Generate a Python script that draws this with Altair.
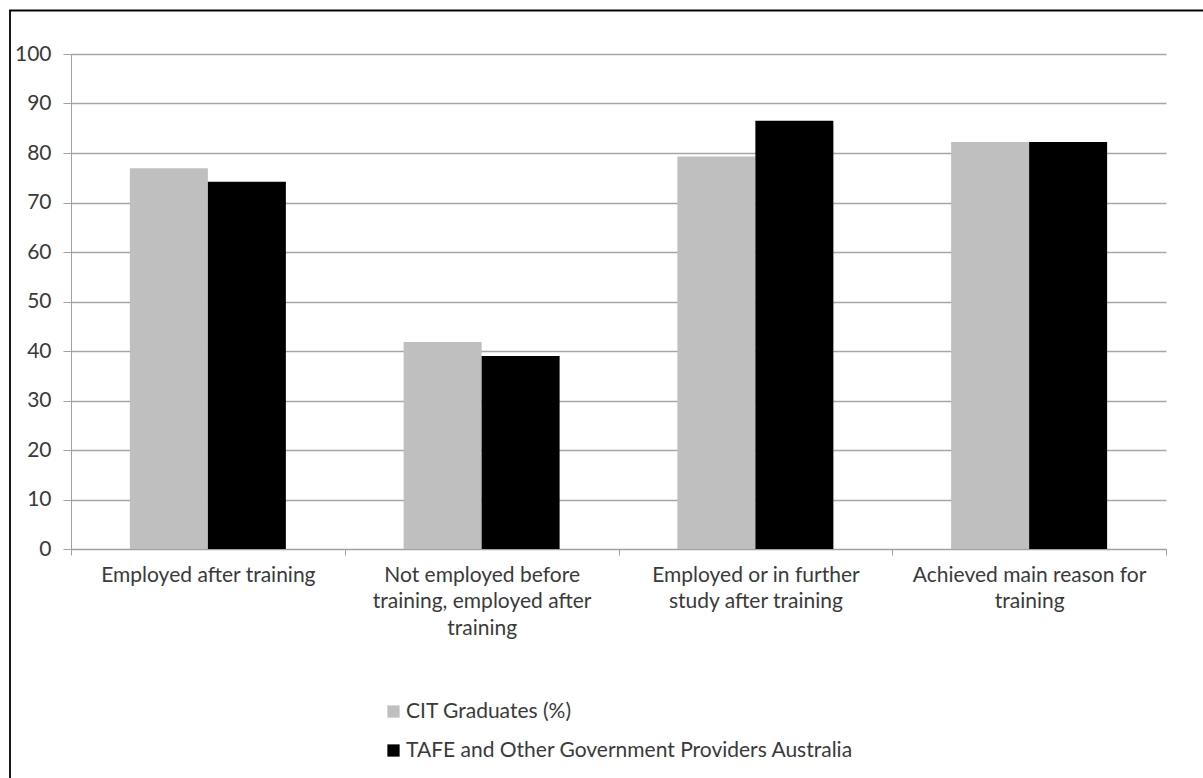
import altair as alt
import pandas as pd

categories = [
    "Employed after training",
    "Not employed before|training, employed after|training",
    "Employed or in further|study after training",
    "Achieved main reason for|training",
]
series = ["CIT Graduates (%)", "TAFE and Other Government Providers Australia"]
cit_values = [76.9, 41.8, 79.3, 82.2]
tafe_values = [74.2, 39.0, 86.5, 82.2]
colors = ["#BFBFBF", "#000000"]
y_ticks = [0, 10, 20, 30, 40, 50, 60, 70, 80, 90, 100]

rows = []
for c, a, b in zip(categories, cit_values, tafe_values):
    rows.append({"category": c, "series": series[0], "value": a})
    rows.append({"category": c, "series": series[1], "value": b})
df = pd.DataFrame(rows)

FONT = "Lato"
FS = 21
TXT = "#3A3A3A"
W, H = 1095, 495
PL, PT = 71, 54

bars = alt.Chart(df).mark_bar().encode(
    x=alt.X(
        "category:N",
        sort=categories,
        scale=alt.Scale(paddingInner=0, paddingOuter=0),
        axis=alt.Axis(
            title=None,
            labelAngle=0,
            labelExpr="split(datum.label, '|')",
            labelFont=FONT,
            labelFontSize=FS,
            labelColor=TXT,
            labelLineHeight=26.5,
            labelPadding=9,
            labelLimit=400,
            tickBand="extent",
            tickSize=6,
            tickColor="#A0A0A0",
            domainColor="#A0A0A0",
            grid=False,
        ),
    ),
    xOffset=alt.XOffset(
        "series:N",
        sort=series,
        scale=alt.Scale(paddingInner=0, paddingOuter=0.755),
    ),
    y=alt.Y(
        "value:Q",
        scale=alt.Scale(domain=[0, 100], nice=False),
        axis=alt.Axis(
            title=None,
            values=y_ticks,
            labelFont=FONT,
            labelFontSize=FS,
            labelColor=TXT,
            labelPadding=12,
            tickSize=8,
            tickColor="#A0A0A0",
            domainColor="#A0A0A0",
            gridColor="#A6A6A6",
            gridWidth=1.3,
        ),
    ),
    color=alt.Color(
        "series:N",
        sort=series,
        scale=alt.Scale(domain=series, range=colors),
        legend=alt.Legend(
            title=None,
            orient="none",
            legendX=312,
            legendY=647,
            direction="vertical",
            symbolType="square",
            symbolSize=150,
            symbolStrokeWidth=0,
            labelFont=FONT,
            labelFontSize=FS,
            labelColor=TXT,
            labelLimit=600,
            rowPadding=17,
            labelOffset=2,
        ),
    ),
)

frame_df = pd.DataFrame({"k": [0]})
frame = alt.Chart(frame_df).mark_rect(
    fill=None, stroke="#000000", strokeWidth=1.8, clip=False
).encode(
    x=alt.value(10 - PL),
    x2=alt.value(1250 - PL),
    y=alt.value(10.5 - PT),
    y2=alt.value(850 - PT),
)

chart = (
    alt.layer(bars, frame)
    .properties(
        width=W,
        height=H,
        padding={"left": PL, "top": PT, "right": 1203 - PL - W, "bottom": 778 - PT - H},
        autosize=alt.AutoSizeParams(type="none"),
        background="white",
    )
    .configure_view(stroke=None)
)

chart.save("out.html", embed_options={"renderer": "svg", "actions": False})
